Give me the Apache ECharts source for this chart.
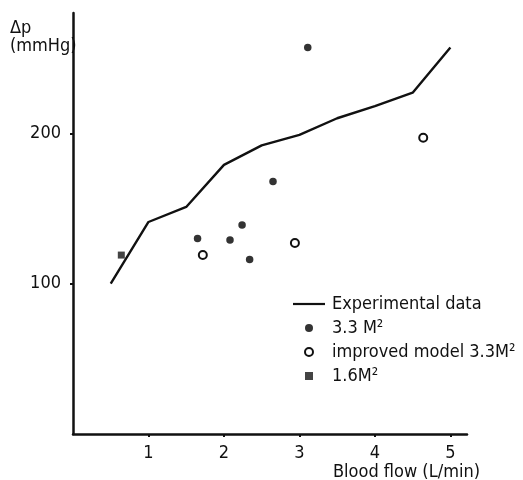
<!DOCTYPE html>
<html>
<head>
<meta charset="utf-8">
<script src="https://cdn.jsdelivr.net/npm/echarts@6/dist/echarts.min.js"></script>
<style>
  html, body { margin: 0; padding: 0; background: #fff; }
  #chart { width: 523px; height: 480px; }
</style>
</head>
<body>
<div id="chart"></div>
<script>
// Experimental curve (blood flow L/min, pressure drop mmHg)
const expFlow = [0.5, 1.0, 1.5, 2.0, 2.5, 3.0, 3.5, 4.0, 4.5, 5.0];
const expDp = [100, 141, 151, 179, 192, 199, 210, 218, 227, 257];

// 3.3 M2 model points
const m33Flow = [1.65, 2.08, 2.24, 2.34, 2.65, 3.11];
const m33Dp = [130, 129, 139, 116, 168, 257];

// improved model 3.3 M2
const impFlow = [1.72, 2.94, 4.64];
const impDp = [119, 127, 197];

// 1.6 M2
const m16Flow = [0.64];
const m16Dp = [119];

const flowTicks = [1, 2, 3, 4, 5];
const dpTicks = [100, 200];

const FONT = "'Liberation Sans Narrow', 'DejaVu Sans Condensed', sans-serif";
const INK = '#111';

const zip = (xs, ys) => xs.map((x, i) => [x, ys[i]]);

const chart = echarts.init(document.getElementById('chart'));

chart.setOption({
  animation: false,
  backgroundColor: '#fff',
  textStyle: { fontFamily: FONT, color: INK },
  grid: { left: 73, right: 56, top: 13, bottom: 46 },
  xAxis: {
    type: 'value',
    min: 0,
    max: 5.22,
    interval: 1,
    axisLine: { lineStyle: { color: INK, width: 2.5 } },
    axisTick: { customValues: flowTicks, length: 3, lineStyle: { color: INK, width: 2 } },
    axisLabel: { customValues: flowTicks, margin: 10, fontSize: 18, color: INK, fontFamily: FONT },
    splitLine: { show: false }
  },
  yAxis: {
    type: 'value',
    min: 0,
    max: 280,
    interval: 100,
    axisLine: { show: true, lineStyle: { color: INK, width: 2.5 } },
    axisTick: { show: true, customValues: dpTicks, length: 3, lineStyle: { color: INK, width: 2 } },
    axisLabel: { customValues: dpTicks, margin: 12, fontSize: 18, color: INK, fontFamily: FONT },
    splitLine: { show: false }
  },
  legend: {
    orient: 'vertical',
    left: 288,
    top: 290,
    itemWidth: 32,
    itemHeight: 8,
    itemGap: 6,
    textStyle: { fontSize: 18, lineHeight: 18, color: INK, fontFamily: FONT, padding: [0, 0, 0, 2] },
    data: [
      { name: 'Experimental data', icon: 'path://M0,0 L32,0 L32,2.2 L0,2.2 Z' },
      { name: '3.3 M²', icon: 'circle' },
      { name: 'improved model 3.3M²', icon: 'circle' },
      { name: '1.6M²', icon: 'path://M0,0 L7,0 L7,7 L0,7 Z' }
    ]
  },
  graphic: [
    {
      type: 'text',
      left: 10,
      top: 19,
      style: { text: 'Δp\n(mmHg)', font: '18px ' + FONT, lineHeight: 18, fill: INK }
    },
    {
      type: 'text',
      left: 333,
      top: 463,
      style: { text: 'Blood flow (L/min)', font: '18px ' + FONT, fill: INK }
    }
  ],
  series: [
    {
      name: 'Experimental data',
      type: 'line',
      symbol: 'none',
      data: zip(expFlow, expDp),
      lineStyle: { color: INK, width: 2.4 },
      itemStyle: { color: INK }
    },
    {
      name: '3.3 M²',
      type: 'scatter',
      symbol: 'circle',
      symbolSize: 7.5,
      data: zip(m33Flow, m33Dp),
      itemStyle: { color: '#333', opacity: 1 }
    },
    {
      name: 'improved model 3.3M²',
      type: 'scatter',
      symbol: 'circle',
      symbolSize: 8,
      data: zip(impFlow, impDp),
      itemStyle: { color: '#fff', borderColor: INK, borderWidth: 2, opacity: 1 }
    },
    {
      name: '1.6M²',
      type: 'scatter',
      symbol: 'rect',
      symbolSize: 7,
      data: zip(m16Flow, m16Dp),
      itemStyle: { color: '#444', opacity: 1 }
    }
  ]
});
</script>
</body>
</html>
